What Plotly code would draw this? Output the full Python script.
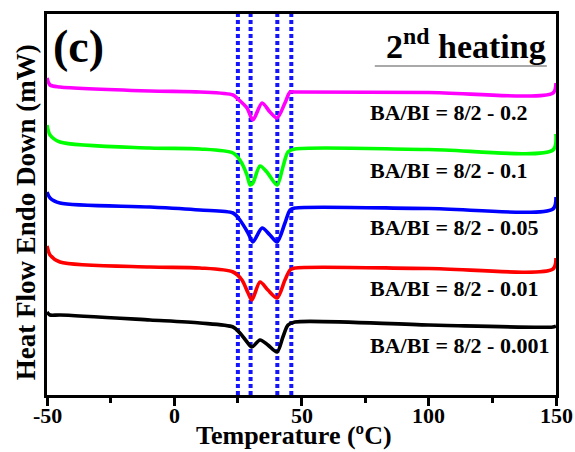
import plotly.graph_objects as go

# Temperature (deg C) and heat-flow (arbitrary, offset) values
T_02 = [-50, -48.8, -44.9, -9.5, 10.1, 23.1, 25.0, 28.6, 30.9, 34.5, 37.6, 40.4, 43.5, 45.5, 47.4, 100, 148.8, 150]
H_02 = [31.7, 31.0, 30.8, 30.4, 30.3, 30.0, 29.6, 28.7, 27.5, 29.2, 28.3, 27.7, 29.2, 30.3, 30.3, 30.25, 30.2, 31.2]

T_01 = [-50, -48.8, -44.9, -9.5, 10.1, 23.1, 25.8, 28.6, 29.8, 30.9, 33.7, 36.4, 40.4, 42.7, 44.7, 47.4, 100, 148.8, 150]
H_01 = [27.0, 26.0, 25.3, 24.7, 24.6, 24.2, 23.5, 22.0, 21.0, 21.2, 22.9, 22.3, 21.0, 22.8, 24.3, 24.6, 24.55, 24.5, 26.1]

T_005 = [-50, -48.8, -44.9, -9.5, 10.1, 23.1, 25.8, 29.0, 30.9, 34.5, 37.6, 40.4, 43.5, 45.5, 47.4, 100, 148.8, 150]
H_005 = [20.3, 19.7, 19.2, 18.8, 18.5, 18.2, 17.5, 16.2, 15.3, 16.7, 16.0, 15.3, 17.2, 18.5, 18.7, 18.65, 18.6, 19.8]

T_001 = [-50, -48.8, -44.9, -9.5, 10.1, 23.1, 26.6, 29.0, 30.5, 33.7, 36.8, 40.4, 43.5, 45.5, 47.4, 100, 148.8, 150]
H_001 = [14.9, 14.0, 13.3, 12.8, 12.7, 12.3, 11.5, 10.2, 9.5, 11.3, 10.5, 9.7, 11.5, 12.5, 12.7, 12.65, 12.6, 13.7]

T_0001 = [-50, -48.8, -44.9, -9.5, 10.1, 23.1, 25.8, 28.6, 30.5, 33.7, 36.8, 40.4, 42.7, 44.7, 47.4, 100, 148.8, 150]
H_0001 = [8.3, 8.0, 8.0, 7.5, 7.2, 6.8, 6.2, 5.3, 4.8, 5.5, 5.0, 4.3, 5.8, 7.0, 7.3, 7.0, 6.8, 6.9]

series_names = ["BA/BI = 8/2 - 0.2", "BA/BI = 8/2 - 0.1", "BA/BI = 8/2 - 0.05",
                "BA/BI = 8/2 - 0.01", "BA/BI = 8/2 - 0.001"]
series_T = [T_02, T_01, T_005, T_001, T_0001]
series_H = [H_02, H_01, H_005, H_001, H_0001]
series_colors = ["#FF00FF", "#00FF00", "#0000FF", "#FF0000", "#000000"]
label_y = [28.3, 22.5, 16.8, 10.7, 5.0]

guide_T = [25, 30, 40.5, 46]

x_ticks = [-50, 0, 50, 100, 150]
x_tick_labels = ["-50", "0", "50", "100", "150"]

FONT = "Liberation Serif"

fig = go.Figure()

for t in guide_T:
    fig.add_trace(go.Scatter(x=[t, t], y=[0, 38.1], mode="lines",
                             line=dict(color="#1414FF", width=4, dash="4px,3px"),
                             showlegend=False, hoverinfo="skip"))

for name, xs, ys, c in zip(series_names, series_T, series_H, series_colors):
    fig.add_trace(go.Scatter(x=xs, y=ys, mode="lines", name=name,
                             line=dict(color=c, width=3.6, shape="spline", smoothing=0.8),
                             showlegend=False))

annotations = []
for name, ly in zip(series_names, label_y):
    annotations.append(dict(text="<b>" + name + "</b>", x=0.6306, xref="paper", y=ly, yref="y",
                            xanchor="left", yanchor="middle", showarrow=False,
                            font=dict(family=FONT, size=22, color="black")))

for tv, tl in zip(x_ticks, x_tick_labels):
    annotations.append(dict(text="<b>" + tl + "</b>", x=tv, xref="x", y=-0.054, yref="paper",
                            xanchor="center", yanchor="middle", showarrow=False,
                            font=dict(family=FONT, size=22, color="black")))

annotations.append(dict(text="<b>(c)</b>", x=0.008, xref="paper", y=0.916, yref="paper",
                        xanchor="left", yanchor="middle", showarrow=False,
                        font=dict(family=FONT, size=46, color="black")))
annotations.append(dict(text="<b>2<sup>nd</sup> heating</b>", x=0.985, xref="paper", y=0.922, yref="paper",
                        xanchor="right", yanchor="middle", showarrow=False,
                        font=dict(family=FONT, size=34, color="black")))
annotations.append(dict(text="<b>Temperature (ºC)</b>", x=0.485, xref="paper", y=-0.1496, yref="paper",
                        xanchor="center", yanchor="bottom", showarrow=False,
                        font=dict(family=FONT, size=26, color="black")))
annotations.append(dict(text="<b>Heat Flow Endo Down (mW)</b>", x=-0.041, xref="paper", y=0.48, yref="paper",
                        xanchor="center", yanchor="middle", showarrow=False, textangle=-90,
                        font=dict(family=FONT, size=27, color="black")))

fig.update_layout(
    width=575, height=452,
    margin=dict(l=47, r=19, t=14, b=57),
    paper_bgcolor="white", plot_bgcolor="white",
    annotations=annotations,
    shapes=[dict(type="line", xref="paper", yref="paper", x0=0.644, x1=0.982, y0=0.8635, y1=0.8635,
                 line=dict(color="#555555", width=1.2))],
    xaxis=dict(range=[-50, 150], tickvals=x_ticks, showticklabels=False,
               ticks="outside", ticklen=8, tickwidth=3, tickcolor="black",
               minor=dict(dtick=25, tick0=-50, ticks="outside", ticklen=5, tickwidth=3, tickcolor="black"),
               showline=True, linewidth=3, linecolor="black", mirror=True,
               showgrid=False, zeroline=False, automargin=False),
    yaxis=dict(range=[0, 38.1], showticklabels=False, ticks="",
               showline=True, linewidth=3, linecolor="black", mirror=True,
               showgrid=False, zeroline=False, automargin=False),
)

fig.write_html("out.html")
